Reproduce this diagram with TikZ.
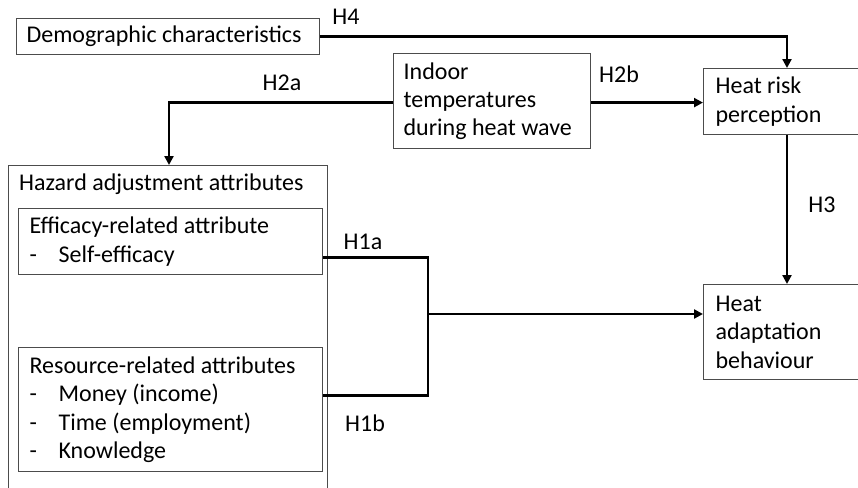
\documentclass[tikz,border=0pt]{standalone}
\usepackage{fontspec}
\setmainfont{Carlito}
\usetikzlibrary{arrows.meta,calc}
\tikzset{
  box/.style={draw=black!70, line width=1.2pt, anchor=north west, align=left,
    inner xsep=10pt, inner ysep=0pt, font=\fontsize{24}{28.3}\selectfont,
    execute at begin node={\spaceskip=0pt\xspaceskip=0pt\relax}},
  arr/.style={line width=2.6pt, -{Triangle[length=9pt,width=9pt]}},
  conn/.style={line width=2.6pt},
  lab/.style={font=\fontsize{24}{28.3}\selectfont},
}
\newcommand{\itm}{\makebox[29pt][l]{-}}
\begin{document}
\begin{tikzpicture}[x=1pt,y=-1pt]
\clip (0,0) rectangle (858,487);
\fill[white] (0,0) rectangle (858,487);
% boxes
\node[box, minimum width=303pt, minimum height=36pt, text width=283pt] (demo) at (16,18) {Demographic characteristics};
\node[box, minimum width=197pt, minimum height=95pt, text width=177pt] (indoor) at (393,53) {Indoor\\temperatures\\during heat wave};
\node[box, minimum width=180pt, minimum height=66pt, text width=160pt, inner xsep=12pt] (risk) at (703,68) {Heat risk\\perception};
\node[box, minimum width=180pt, minimum height=95pt, text width=160pt, inner xsep=12pt] (adapt) at (703,284) {Heat\\adaptation\\behaviour};
\node[box, minimum width=319pt, minimum height=340pt] (haz) at (8,165) {};
\node[lab, anchor=west, inner sep=0pt] (hazt) at (19,184) {Hazard adjustment attributes};
\node[box, minimum width=302pt, minimum height=66pt, text width=282pt, inner xsep=11pt] (eff) at (18,208) {Efficacy-related attribute\\\itm Self-efficacy};
\node[box, minimum width=302pt, minimum height=124pt, text width=282pt, inner xsep=11pt] (res) at (18,347) {Resource-related attributes\\\itm Money (income)\\\itm Time (employment)\\\itm Knowledge};
% helper coordinates
\coordinate (col) at (787,0);
\coordinate (colA) at (169,0);
\coordinate (e1) at ($(eff.east)+(0,16)$);
\coordinate (r1) at ($(res.east)+(0,-14)$);
\coordinate (jx) at (428,0);
\coordinate (jm) at (428,314);
% connectors
\draw[arr] (demo.east) -| (risk.north -| col);
\draw[arr] ($(indoor.west)+(0,1.5)$) -| (haz.north -| colA);
\draw[arr] ($(indoor.east)+(0,1.5)$) -- ($(risk.west)+(0,1)$);
\draw[arr] (risk.south -| col) -- (adapt.north -| col);
\draw[conn] (e1) -| (jx |- r1) -- (r1);
\draw[arr] (jm) -- (jm -| adapt.west);
% labels
\node[lab] (h4) at (346,17) {H4};
\node[lab] (h2a) at (282,83) {H2a};
\node[lab] (h2b) at (619,74) {H2b};
\node[lab] (h3) at (822,205) {H3};
\node[lab] (h1a) at (363,242) {H1a};
\node[lab] (h1b) at (365,423) {H1b};
\end{tikzpicture}
\end{document}
